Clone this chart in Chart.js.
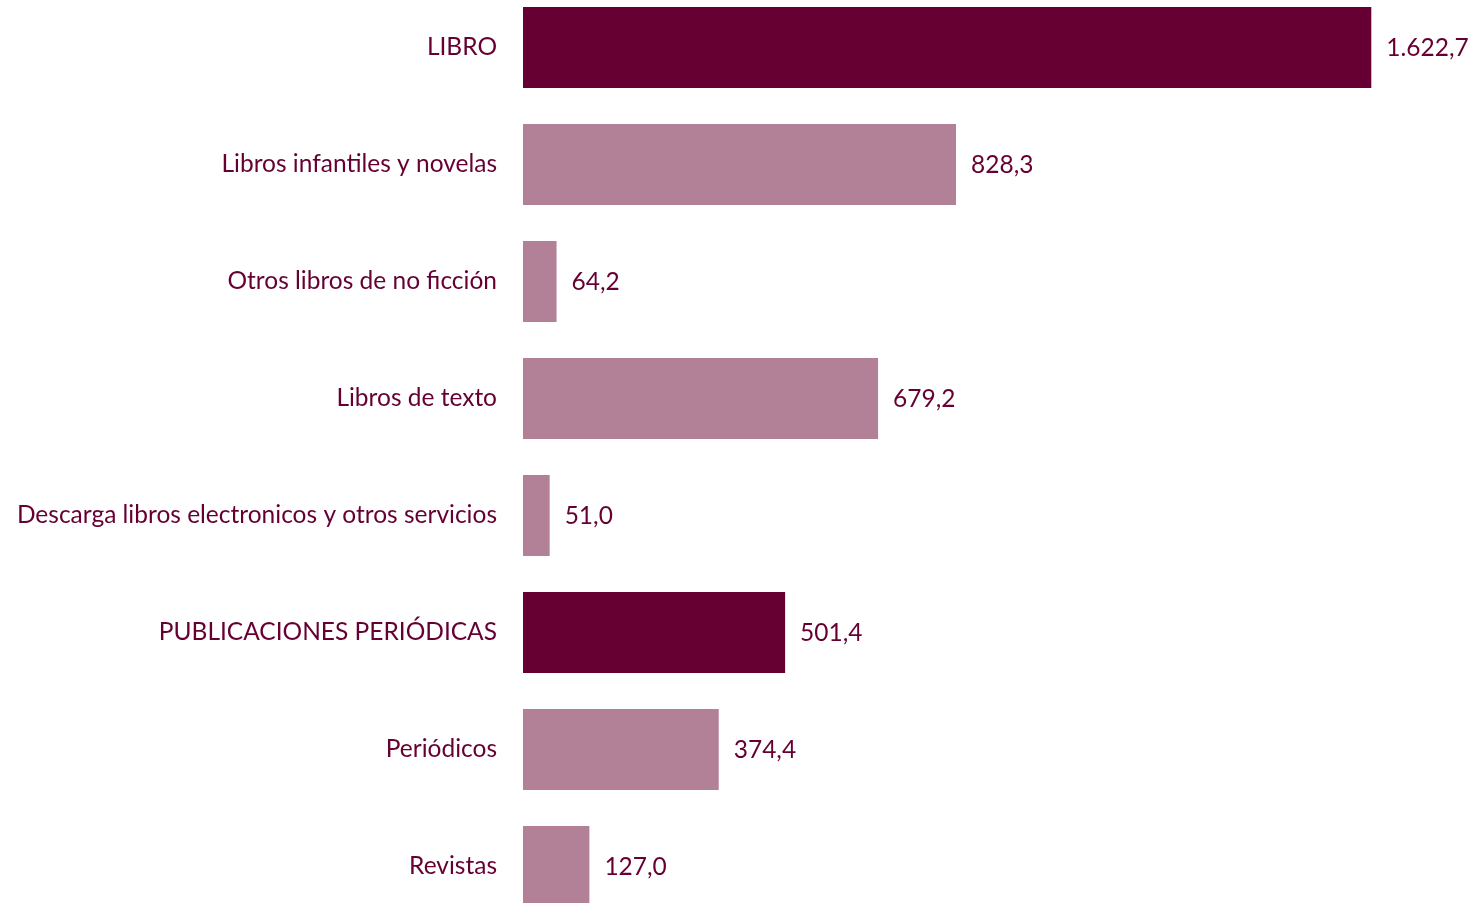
<!DOCTYPE html>
<html><head><meta charset="utf-8">
<script src="https://cdn.jsdelivr.net/npm/chart.js@4/dist/chart.umd.min.js"></script>
<style>
html,body{margin:0;padding:0;background:#fff;overflow:hidden;width:1475px;height:903px;}
#c{position:absolute;left:0;top:-11px;}
</style></head><body>
<canvas id="c" width="1475" height="936"></canvas>
<script>
const categories = ["LIBRO","Libros infantiles y novelas","Otros libros de no ficción","Libros de texto","Descarga libros electronicos y otros servicios","PUBLICACIONES PERIÓDICAS","Periódicos","Revistas"];
const values = [1622.7, 828.3, 64.2, 679.2, 51.0, 501.4, 374.4, 127.0];
const isTotal = [true,false,false,false,false,true,false,false];
const valueLabels = ["1.622,7","828,3","64,2","679,2","51,0","501,4","374,4","127,0"];

const DARK = "#660033", LIGHT = "#B28097";
const FONT = "Lato";
const FSIZE = 24.5;
const labelPlugin = {
  id:'vals',
  afterDatasetsDraw(chart){
    const ctx = chart.ctx;
    const meta = chart.getDatasetMeta(0);
    ctx.save();
    ctx.fillStyle = DARK;
    ctx.font = FSIZE + "px " + FONT;
    ctx.textBaseline = "middle";
    ctx.textAlign = "left";
    meta.data.forEach((bar,i)=>{
      ctx.fillText(valueLabels[i], bar.x + 15, bar.y + 1);
    });
    ctx.restore();
  }
};
new Chart(document.getElementById('c'), {
  type:'bar',
  data:{labels:categories, datasets:[{data:values, backgroundColor:isTotal.map(t=>t?DARK:LIGHT), borderWidth:0, barPercentage:1, categoryPercentage:0.692}]},
  options:{
    indexAxis:'y', responsive:false, maintainAspectRatio:false, animation:false, devicePixelRatio:1,
    layout:{autoPadding:false, padding:{left:0,right:11,top:0,bottom:0}},
    plugins:{legend:{display:false}, tooltip:{enabled:false}},
    scales:{
      x:{display:false, min:0, max:1800},
      y:{grid:{display:false, drawTicks:false}, border:{display:false},
         ticks:{color:DARK, font:{family:FONT,size:FSIZE}, padding:26},
         afterFit(s){ s.width = 523; s.paddingTop = 0; s.paddingBottom = 0; }}
    }
  },
  plugins:[labelPlugin]
});
</script>
</body></html>
